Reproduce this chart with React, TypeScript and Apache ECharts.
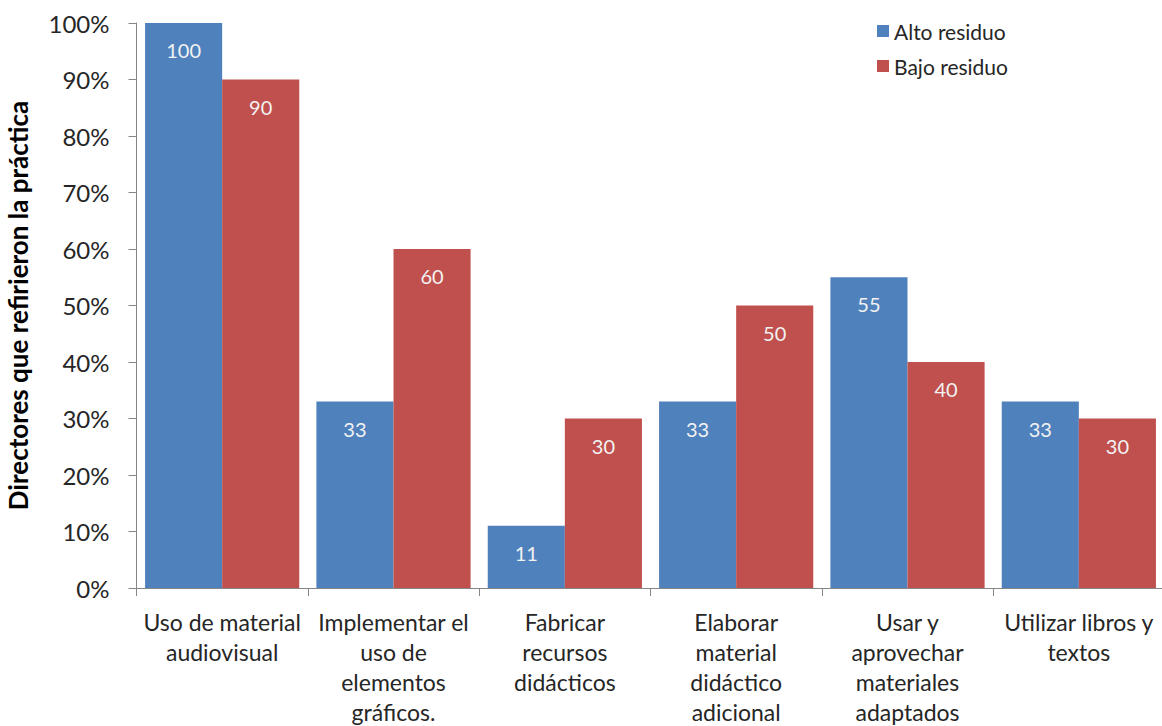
import React, { useEffect, useRef } from "react";
import * as echarts from "echarts";

const categories = [
  "Uso de material\naudiovisual",
  "Implementar el\nuso de\nelementos\ngráficos.",
  "Fabricar\nrecursos\ndidácticos",
  "Elaborar\nmaterial\ndidáctico\nadicional",
  "Usar y\naprovechar\nmateriales\nadaptados",
  "Utilizar libros y\ntextos",
];
const altoResiduo = [100, 33, 11, 33, 55, 33];
const bajoResiduo = [90, 60, 30, 50, 40, 30];
const yAxisTitle = "Directores que refirieron la práctica";
const seriesNames = ["Alto residuo", "Bajo residuo"];

const FONT = "Lato, 'Open Sans', sans-serif";

export default function App() {
  const ref = useRef<HTMLDivElement>(null);
  useEffect(() => {
    if (!ref.current) return;
    const chart = echarts.init(ref.current, undefined, { renderer: "svg" });
    const label = {
      show: true,
      position: "insideTop",
      distance: 17,
      color: "#f2f2f2",
      fontSize: 20,
      fontFamily: FONT,
    };
    chart.setOption({
      animation: false,
      backgroundColor: "#ffffff",
      textStyle: { fontFamily: FONT },
      grid: {
        left: 136.5,
        width: 1028,
        top: 23,
        height: 565,
        containLabel: false,
        outerBoundsMode: "none",
      },
      legend: {
        orient: "vertical",
        left: 872,
        top: 14.5,
        itemWidth: 12,
        itemHeight: 12,
        itemGap: 12,
        icon: "rect",
        textStyle: { fontSize: 21, color: "#262626", fontFamily: FONT, lineHeight: 23 },
        data: seriesNames,
      },
      xAxis: {
        type: "category",
        data: categories,
        axisLine: { lineStyle: { color: "#868686", width: 1 } },
        axisTick: { show: true, length: 8, lineStyle: { color: "#868686" } },
        axisLabel: {
          interval: 0,
          margin: 19,
          fontSize: 23,
          lineHeight: 30,
          color: "#262626",
          fontFamily: FONT,
        },
      },
      yAxis: {
        type: "value",
        min: 0,
        max: 100,
        interval: 10,
        name: yAxisTitle,
        nameLocation: "middle",
        nameGap: 106,
        nameTextStyle: { fontSize: 26, fontWeight: "bold", color: "#000000", fontFamily: FONT },
        splitLine: { show: false },
        axisLine: { show: true, lineStyle: { color: "#868686", width: 1 } },
        axisTick: { show: true, length: 8, lineStyle: { color: "#868686" } },
        axisLabel: {
          formatter: "{value}%",
          margin: 27,
          fontSize: 24,
          color: "#262626",
          fontFamily: FONT,
        },
      },
      series: [
        {
          name: seriesNames[0],
          type: "bar",
          data: altoResiduo,
          barGap: "0%",
          barCategoryGap: "10%",
          itemStyle: { color: "#4F81BD" },
          label,
        },
        {
          name: seriesNames[1],
          type: "bar",
          data: bajoResiduo,
          barGap: "0%",
          barCategoryGap: "10%",
          itemStyle: { color: "#C0504D" },
          label,
        },
      ],
    });
    return () => chart.dispose();
  }, []);
  return (
    <div
      ref={ref}
      style={{ position: "fixed", left: 0, top: 0, width: 1162, height: 726 }}
    />
  );
}
